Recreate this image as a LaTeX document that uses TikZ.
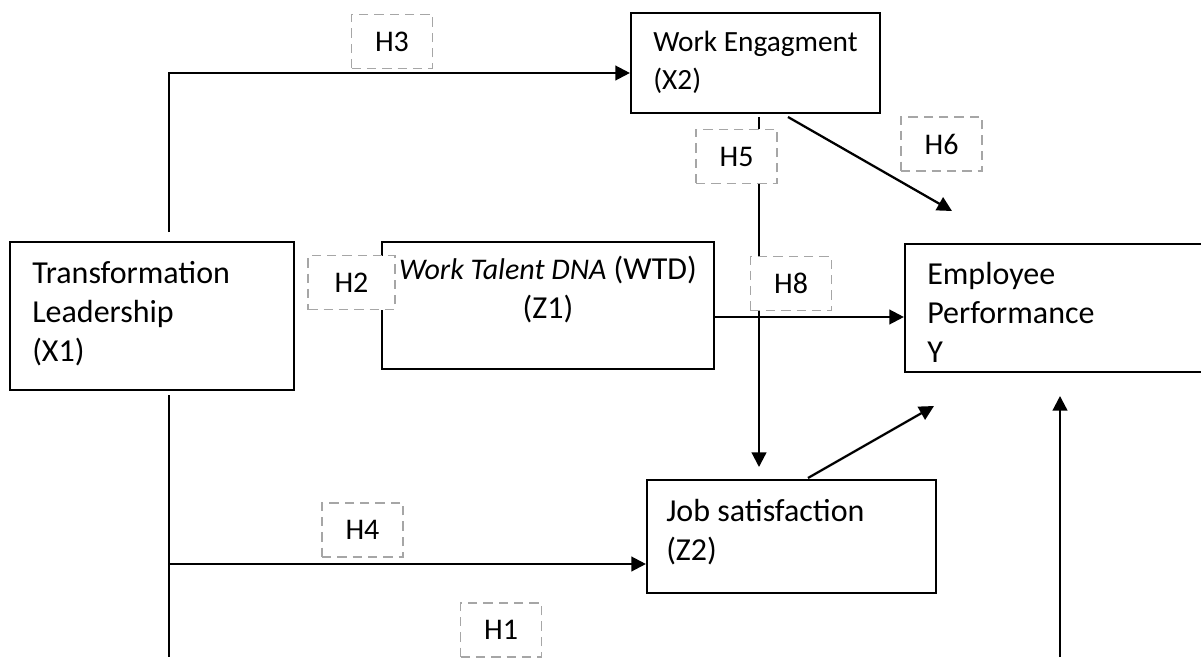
\documentclass[tikz,border=0pt]{standalone}
\usepackage{fontspec}
\setmainfont{Carlito}
\usetikzlibrary{arrows.meta}
\begin{document}
\begin{tikzpicture}[x=0.75pt,y=-0.75pt,
  varbox/.style={draw=black, line width=1.6pt, inner sep=0pt},
  vartext/.style={anchor=base west, inner sep=0pt, align=left,
    font=\fontsize{24}{29}\selectfont},
  hypbox/.style={draw=black!35, fill=white, line width=1.4pt,
    dash pattern=on 7pt off 4.5pt, minimum width=60.75pt, minimum height=40.5pt,
    inner sep=0pt, font=\fontsize{22.5}{26}\selectfont},
  ln/.style={line width=1.7pt},
  arr/.style={line width=1.7pt, -{Triangle[length=11pt,width=11pt]}}]
\useasboundingbox (0,0) rectangle (1201,659);

% variable boxes
\node[varbox, minimum width=213pt, minimum height=111pt] (X1) at (152,316) {};
\node[varbox, minimum width=186.75pt, minimum height=75pt] (WE) at (755.5,63) {};
\node[varbox, minimum width=249pt, minimum height=95.25pt] (WTD) at (548,305.5) {};
\node[varbox, minimum width=232.5pt, minimum height=96pt] (EP) at (1060,308) {};
\node[varbox, minimum width=216.75pt, minimum height=84.75pt] (JS) at (791.5,536.5) {};

% box texts (anchored at the baseline of their last line)
\node[vartext] (X1t) at (32,361) {Transformation\\Leadership\\(X1)};
\node[vartext, font=\fontsize{22}{29}\selectfont] (WEt) at (653,90)
  {Work Engagment\\(X2)};
\node[vartext, anchor=base, align=center] (WTDt) at (548,318)
  {{\fontsize{22.5}{29}\selectfont\itshape Work Talent DNA} (WTD)\\(Z1)};
\node[vartext] (EPt) at (927,362) {Employee\\Performance\\Y};
\node[vartext] (JSt) at (666,560) {Job satisfaction\\(Z2)};

% connector end points
\coordinate (a1) at (169,232);
\coordinate (a2) at (169,73);
\coordinate (b1) at (169,395);
\coordinate (b2) at (169,657);
\coordinate (b3) at (169,564);
\coordinate (c1) at (759,117);
\coordinate (c2) at (759,467);
\coordinate (d1) at (714,317);
\coordinate (e1) at (788,117);
\coordinate (e2) at (952,211);
\coordinate (f1) at (808,478);
\coordinate (f2) at (934,406);
\coordinate (g1) at (1060,657);
\coordinate (g2) at (1060,396);

% connectors
\draw[arr] (a1) -- (a2) -- (a2 -| WE.west);
\draw[ln] (b1) -- (b2);
\draw[arr] (b3) -- (b3 -| JS.west);
\draw[arr] (c1) -- (c2);
\draw[arr] (d1 -| WTD.east) -- (d1 -| EP.west);
\draw[arr] (e1) -- (e2);
\draw[arr] (f1) -- (f2);
\draw[arr] (g1) -- (g2);

% hypothesis labels
\node[hypbox] (H3) at (392,41.5) {H3};
\node[hypbox, minimum width=65pt] (H2) at (351.5,282.5) {H2};
\node[hypbox] (H5) at (736.5,156.5) {H5};
\node[hypbox] (H6) at (941.5,144) {H6};
\node[hypbox] (H8) at (791,283.5) {H8};
\node[hypbox] (H4) at (362.5,530) {H4};
\node[hypbox] (H1) at (501,630) {H1};
\end{tikzpicture}
\end{document}
